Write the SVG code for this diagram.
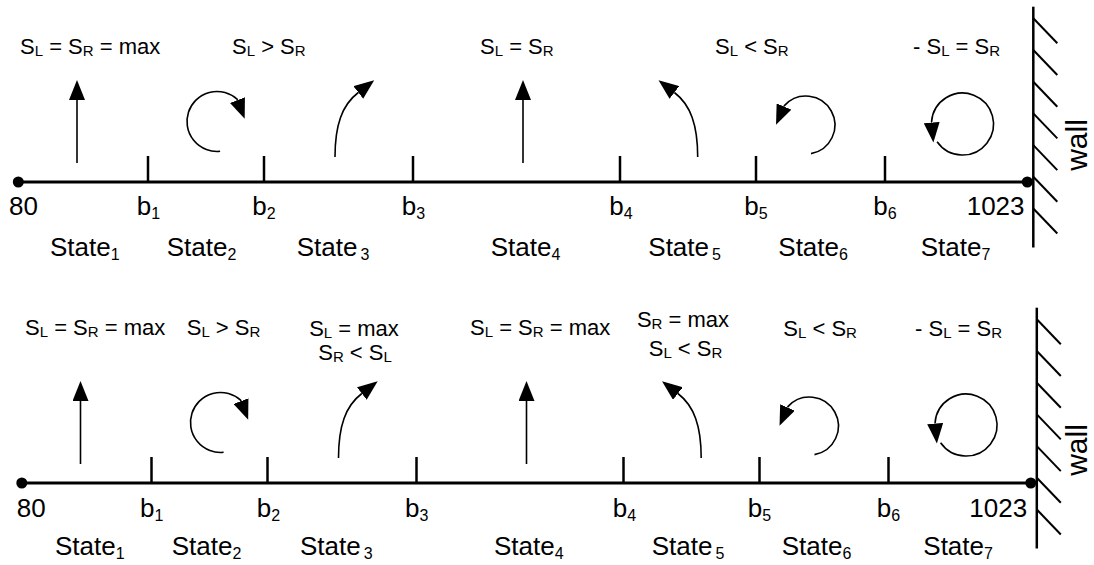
<svg xmlns="http://www.w3.org/2000/svg" width="1094" height="565" viewBox="0 0 1094 565">
<style>
text{font-family:"Liberation Sans",Arial,sans-serif;fill:#000}
.lbl{font-size:22px}
.ax{font-size:26px}
.st{font-size:26px}
.wl{font-size:30px}
.s{font-size:15px}
.sb{font-size:16px}
.axis{stroke:#000;stroke-width:3;fill:none}
.tick{stroke:#000;stroke-width:2.5}
.wall{stroke:#000;stroke-width:2.5}
.hatch{stroke:#000;stroke-width:2}
.arr{stroke:#000;stroke-width:1.6;fill:none;marker-end:url(#ah)}
</style>
<defs>
<marker id="ah" markerUnits="userSpaceOnUse" viewBox="0 0 20 16" markerWidth="20" markerHeight="16" refX="0" refY="8" orient="auto">
<path d="M0,0 L20,8 L0,16 z" fill="#000"/>
</marker>
<g id="shapes">
<g id="axis">
<line class="axis" x1="18.3" y1="182" x2="1027.3" y2="182"/>
<line class="tick" x1="148" y1="156" x2="148" y2="182"/>
<line class="tick" x1="264" y1="156" x2="264" y2="182"/>
<line class="tick" x1="413" y1="156" x2="413" y2="182"/>
<line class="tick" x1="620" y1="156" x2="620" y2="182"/>
<line class="tick" x1="756" y1="156" x2="756" y2="182"/>
<line class="tick" x1="885" y1="156" x2="885" y2="182"/>
<circle cx="18.3" cy="182" r="5.5"/>
<circle cx="1027.3" cy="182" r="5.5"/>
</g>
<g id="wall">
<line class="wall" x1="1033.3" y1="6.7" x2="1033.3" y2="247.5"/>
<line class="hatch" x1="1033.3" y1="18.3" x2="1057.3" y2="43.3"/>
<line class="hatch" x1="1033.3" y1="50" x2="1057.3" y2="75"/>
<line class="hatch" x1="1033.3" y1="81.7" x2="1057.3" y2="106.7"/>
<line class="hatch" x1="1033.3" y1="113.4" x2="1057.3" y2="138.4"/>
<line class="hatch" x1="1033.3" y1="145.1" x2="1057.3" y2="170.1"/>
<line class="hatch" x1="1033.3" y1="176.8" x2="1057.3" y2="201.8"/>
<line class="hatch" x1="1033.3" y1="208.5" x2="1057.3" y2="233.5"/>
</g>
<g id="arrows">
<line class="arr" x1="77" y1="163" x2="77" y2="100"/>
<path class="arr" d="M220.1,151.3 A30,30 0 1 1 237.1,99.2 l0.36,0.93"/>
<path class="arr" d="M335,157 C335,125 342,105 358.3,92.5"/>
<line class="arr" x1="523" y1="163" x2="523" y2="100"/>
<path class="arr" d="M697.7,157 C697.7,125 690.7,105 674.4,92.5"/>
<path class="arr" d="M811,153.6 A29,29 0 1 0 784.4,105.6 l-0.4,0.92"/>
<path class="arr" d="M937.1,141.8 A31,31 0 1 0 931.6,121.6 l0.085,0.996"/>
</g>
</g>
</defs>

<g id="top-panel">
<use id="top-shapes" href="#shapes"/>
<g id="top-conditions">
<text x="20" y="54" class="lbl">S<tspan class="s" dy="2">L</tspan><tspan dy="-2"> = S</tspan><tspan class="s" dy="2">R</tspan><tspan dy="-2"> = max</tspan></text>
<text x="232" y="54" class="lbl">S<tspan class="s" dy="2">L</tspan><tspan dy="-2"> &gt; S</tspan><tspan class="s" dy="2">R</tspan></text>
<text x="480" y="54" class="lbl">S<tspan class="s" dy="2">L</tspan><tspan dy="-2"> = S</tspan><tspan class="s" dy="2">R</tspan></text>
<text x="715" y="54" class="lbl">S<tspan class="s" dy="2">L</tspan><tspan dy="-2"> &lt; S</tspan><tspan class="s" dy="2">R</tspan></text>
<text x="913" y="54" class="lbl">- S<tspan class="s" dy="2">L</tspan><tspan dy="-2"> = S</tspan><tspan class="s" dy="2">R</tspan></text>
</g>
<g id="top-ticks-labels">
<text x="9" y="215" class="ax">80</text>
<text x="136.7" y="215" class="ax">b<tspan class="sb" dy="4">1</tspan></text>
<text x="252.3" y="215" class="ax">b<tspan class="sb" dy="4">2</tspan></text>
<text x="401.7" y="215" class="ax">b<tspan class="sb" dy="4">3</tspan></text>
<text x="609.3" y="215" class="ax">b<tspan class="sb" dy="4">4</tspan></text>
<text x="744.3" y="215" class="ax">b<tspan class="sb" dy="4">5</tspan></text>
<text x="873.3" y="215" class="ax">b<tspan class="sb" dy="4">6</tspan></text>
<text x="966.7" y="215" class="ax">1023</text>
</g>
<g id="top-states">
<text x="50" y="256" class="st">State<tspan class="sb" dy="3.5">1</tspan></text>
<text x="166.7" y="256" class="st">State<tspan class="sb" dy="3.5">2</tspan></text>
<text x="296.7" y="256" class="st">State<tspan class="sb" dy="3.5" dx="3">3</tspan></text>
<text x="490.7" y="256" class="st">State<tspan class="sb" dy="3.5">4</tspan></text>
<text x="648.3" y="256" class="st">State<tspan class="sb" dy="3.5" dx="3">5</tspan></text>
<text x="778.3" y="256" class="st">State<tspan class="sb" dy="3.5">6</tspan></text>
<text x="920.7" y="256" class="st">State<tspan class="sb" dy="3.5">7</tspan></text>
</g>
<text id="top-wall-label" class="wl" text-anchor="middle" transform="translate(1087,145) rotate(-90)">wall</text>
</g>

<g id="bottom-panel">
<use id="bottom-shapes" href="#shapes" transform="translate(3.5,301)"/>
<g id="bottom-conditions">
<text x="25" y="335" class="lbl">S<tspan class="s" dy="2">L</tspan><tspan dy="-2"> = S</tspan><tspan class="s" dy="2">R</tspan><tspan dy="-2"> = max</tspan></text>
<text x="186.7" y="335" class="lbl">S<tspan class="s" dy="2">L</tspan><tspan dy="-2"> &gt; S</tspan><tspan class="s" dy="2">R</tspan></text>
<text x="354" y="336" class="lbl" text-anchor="middle">S<tspan class="s" dy="2">L</tspan><tspan dy="-2"> = max</tspan></text>
<text x="355" y="360" class="lbl" text-anchor="middle">S<tspan class="s" dy="2">R</tspan><tspan dy="-2"> &lt; S</tspan><tspan class="s" dy="2">L</tspan></text>
<text x="470" y="335" class="lbl">S<tspan class="s" dy="2">L</tspan><tspan dy="-2"> = S</tspan><tspan class="s" dy="2">R</tspan><tspan dy="-2"> = max</tspan></text>
<text x="683" y="327" class="lbl" text-anchor="middle">S<tspan class="s" dy="2">R</tspan><tspan dy="-2"> = max</tspan></text>
<text x="685.5" y="356" class="lbl" text-anchor="middle">S<tspan class="s" dy="2">L</tspan><tspan dy="-2"> &lt; S</tspan><tspan class="s" dy="2">R</tspan></text>
<text x="783.3" y="336" class="lbl">S<tspan class="s" dy="2">L</tspan><tspan dy="-2"> &lt; S</tspan><tspan class="s" dy="2">R</tspan></text>
<text x="915" y="336" class="lbl">- S<tspan class="s" dy="2">L</tspan><tspan dy="-2"> = S</tspan><tspan class="s" dy="2">R</tspan></text>
</g>
<g id="bottom-ticks-labels">
<text x="16.7" y="517" class="ax">80</text>
<text x="140" y="517" class="ax">b<tspan class="sb" dy="4">1</tspan></text>
<text x="256.7" y="517" class="ax">b<tspan class="sb" dy="4">2</tspan></text>
<text x="405" y="517" class="ax">b<tspan class="sb" dy="4">3</tspan></text>
<text x="612.7" y="517" class="ax">b<tspan class="sb" dy="4">4</tspan></text>
<text x="747.7" y="517" class="ax">b<tspan class="sb" dy="4">5</tspan></text>
<text x="876.7" y="517" class="ax">b<tspan class="sb" dy="4">6</tspan></text>
<text x="969.3" y="517" class="ax">1023</text>
</g>
<g id="bottom-states">
<text x="55" y="555" class="st">State<tspan class="sb" dy="3.5">1</tspan></text>
<text x="171.7" y="555" class="st">State<tspan class="sb" dy="3.5">2</tspan></text>
<text x="300" y="555" class="st">State<tspan class="sb" dy="3.5" dx="3">3</tspan></text>
<text x="494" y="555" class="st">State<tspan class="sb" dy="3.5">4</tspan></text>
<text x="651.7" y="555" class="st">State<tspan class="sb" dy="3.5" dx="3">5</tspan></text>
<text x="781.7" y="555" class="st">State<tspan class="sb" dy="3.5">6</tspan></text>
<text x="923.3" y="555" class="st">State<tspan class="sb" dy="3.5">7</tspan></text>
</g>
<text id="bottom-wall-label" class="wl" text-anchor="middle" transform="translate(1087,450) rotate(-90)">wall</text>
</g>
</svg>
